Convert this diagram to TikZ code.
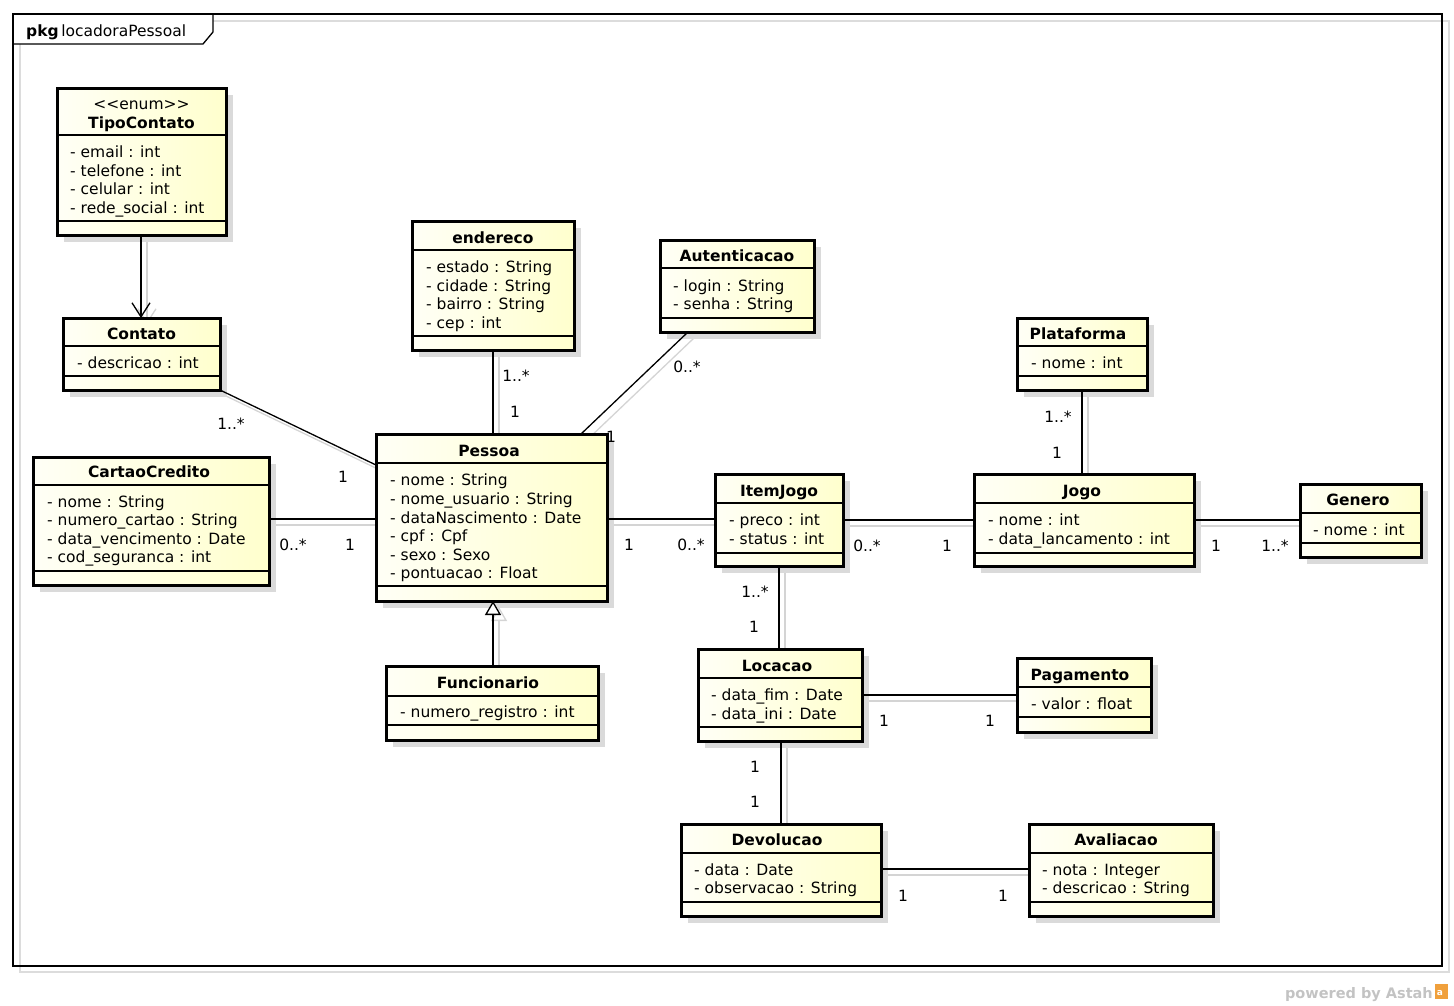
\documentclass[tikz,border=0pt]{standalone}
\usepackage{fontspec}
\setmainfont{DejaVu Sans}
\usetikzlibrary{arrows.meta,calc}
\pgfdeclarelayer{bg}
\pgfsetlayers{bg,main}
\definecolor{shd}{RGB}{218,218,218}
\definecolor{lshd}{RGB}{212,212,212}
\definecolor{fillA}{RGB}{255,255,246}
\definecolor{fillB}{RGB}{255,255,205}
\definecolor{astahgray}{RGB}{195,195,195}
\definecolor{framegray}{RGB}{220,220,220}
\definecolor{astahorange}{RGB}{240,160,60}
\tikzset{
  classbox/.style={draw=black, line width=3pt, left color=fillA, right color=fillB, inner sep=0pt, outer sep=0pt, anchor=north west},
  ctitle/.style={font=\bfseries\fontsize{15.5}{18}\selectfont, inner sep=0pt, text height=13pt, text depth=1pt},
  cster/.style={font=\fontsize{15.5}{18}\selectfont, inner sep=0pt, text height=13pt, text depth=1pt},
  attr/.style={font=\fontsize{15.5}{18}\selectfont, inner sep=0pt, anchor=west, text height=13pt, text depth=1pt},
  mult/.style={font=\fontsize{15.5}{18}\selectfont, inner sep=0pt, text height=13pt, text depth=1pt},
  conn/.style={line width=1.3pt, draw=black},
  connsh/.style={line width=1.3pt, draw=lshd, transform canvas={shift={(6pt,-6pt)}}},
  csep/.style={line width=1.2pt},
  frameline/.style={line width=1.3pt, draw=black},
}
\newcommand\umlclass[7]{%
  \fill[shd] (#2+7,#3+7) rectangle (#4+7,#5+7);
  \node[classbox, minimum width={(#4-#2)*1pt}, minimum height={(#5-#3)*1pt}] (#1) at (#2,#3) {};
  \draw[csep] (#2,#6) -- (#4,#6);
  \draw[csep] (#2,#7) -- (#4,#7);
}
\newcommand\attr[4]{\node[attr] (#1) at (#2,#3) {#4};}
\begin{document}
\begin{tikzpicture}[x=1pt,y=-1pt]
\useasboundingbox (0,0) rectangle (1454,1005);
\begin{pgfonlayer}{bg}
  \draw[line width=1.3pt, draw=framegray] (20,21) rectangle (1449,972);
  \fill[white] (13,14) -- (213,14) -- (213,32) -- (203,44) -- (13,44) -- cycle;
  \draw[frameline] (13,14) rectangle (1442,966);
  \draw[frameline] (13,44) -- (203,44) -- (213,32) -- (213,14);
\end{pgfonlayer}
\node[anchor=west, inner sep=0pt, font=\fontsize{15.5}{18}\selectfont, text height=13pt, text depth=1pt] (pkglabel) at (26,30) {\textbf{pkg}\,locadoraPessoal};

% classes
\umlclass{tipo}{57}{88}{226}{235}{135}{221}
\node[cster] (tipo-st) at (141.5,103) {<{}<enum>{}>};
\node[ctitle] (tipo-t) at (141.5,122) {TipoContato};
\attr{tipo-a1}{70}{151}{- email : int}
\attr{tipo-a2}{70}{170}{- telefone : int}
\attr{tipo-a3}{70}{188}{- celular : int}
\attr{tipo-a4}{70}{207}{- rede\_social : int}

\umlclass{contato}{63}{318}{220}{390}{346}{376}
\node[ctitle] (contato-t) at (141.5,333) {Contato};
\attr{contato-a1}{77}{362}{- descricao : int}

\umlclass{endereco}{412}{221}{574}{350}{250}{336}
\node[ctitle] (endereco-t) at (493,237) {endereco};
\attr{endereco-a1}{426}{266}{- estado : String}
\attr{endereco-a2}{426}{285}{- cidade : String}
\attr{endereco-a3}{426}{303}{- bairro : String}
\attr{endereco-a4}{426}{322}{- cep : int}

\umlclass{auth}{660}{240}{814}{332}{268}{318}
\node[ctitle] (auth-t) at (737,255) {Autenticacao};
\attr{auth-a1}{673}{285}{- login : String}
\attr{auth-a2}{673}{303}{- senha : String}

\umlclass{cartao}{33}{457}{269}{585}{485}{571}
\node[ctitle] (cartao-t) at (149,471) {CartaoCredito};
\attr{cartao-a1}{47}{501}{- nome : String}
\attr{cartao-a2}{47}{519}{- numero\_cartao : String}
\attr{cartao-a3}{47}{538}{- data\_vencimento : Date}
\attr{cartao-a4}{47}{556}{- cod\_seguranca : int}

\umlclass{pessoa}{376}{434}{607}{601}{463}{586}
\node[ctitle] (pessoa-t) at (489,450) {Pessoa};
\attr{pessoa-a1}{390}{479}{- nome : String}
\attr{pessoa-a2}{390}{498}{- nome\_usuario : String}
\attr{pessoa-a3}{390}{517}{- dataNascimento : Date}
\attr{pessoa-a4}{390}{535}{- cpf : Cpf}
\attr{pessoa-a5}{390}{554}{- sexo : Sexo}
\attr{pessoa-a6}{390}{572}{- pontuacao : Float}

\umlclass{func}{386}{666}{598}{740}{696}{725}
\node[ctitle] (func-t) at (488,682) {Funcionario};
\attr{func-a1}{400}{711}{- numero\_registro : int}

\umlclass{item}{715}{474}{843}{566}{503}{553}
\node[ctitle] (item-t) at (779,490) {ItemJogo};
\attr{item-a1}{729}{519}{- preco : int}
\attr{item-a2}{729}{538}{- status : int}

\umlclass{jogo}{974}{474}{1194}{566}{503}{553}
\node[ctitle] (jogo-t) at (1082,490) {Jogo};
\attr{jogo-a1}{988}{519}{- nome : int}
\attr{jogo-a2}{988}{538}{- data\_lancamento : int}

\umlclass{plat}{1017}{318}{1147}{390}{346}{376}
\node[ctitle] (plat-t) at (1078,333) {Plataforma};
\attr{plat-a1}{1031}{362}{- nome : int}

\umlclass{genero}{1300}{484}{1421}{557}{513}{543}
\node[ctitle] (genero-t) at (1358,499) {Genero};
\attr{genero-a1}{1313}{529}{- nome : int}

\umlclass{loc}{698}{649}{862}{741}{678}{727}
\node[ctitle] (loc-t) at (777,665) {Locacao};
\attr{loc-a1}{711}{694}{- data\_fim : Date}
\attr{loc-a2}{711}{713}{- data\_ini : Date}

\umlclass{pag}{1017}{658}{1151}{732}{687}{717}
\node[ctitle] (pag-t) at (1080,674) {Pagamento};
\attr{pag-a1}{1031}{703}{- valor : float}

\umlclass{dev}{681}{824}{881}{916}{853}{902}
\node[ctitle] (dev-t) at (777,839) {Devolucao};
\attr{dev-a1}{694}{869}{- data : Date}
\attr{dev-a2}{694}{887}{- observacao : String}

\umlclass{aval}{1029}{824}{1213}{916}{853}{902}
\node[ctitle] (aval-t) at (1116,839) {Avaliacao};
\attr{aval-a1}{1042}{869}{- nota : Integer}
\attr{aval-a2}{1042}{887}{- descricao : String}

% connector shadows
\begin{pgfonlayer}{bg}
  \draw[connsh, -{Straight Barb[length=14pt,width=18pt]}] (tipo.south -| 141,0) -- (contato.north -| 141,0);
  \draw[connsh] (contato.south east) -- (pessoa.west |- 0,465);
  \draw[connsh] (endereco.south -| 493,0) -- (pessoa.north -| 493,0);
  \draw[connsh] (auth.south -| 688,0) -- (pessoa.north -| 581,0);
  \draw[connsh] (cartao.east |- 0,519) -- (pessoa.west |- 0,519);
  \draw[connsh, -{Triangle[open,length=14pt,width=16pt]}] (func.north -| 493,0) -- (pessoa.south -| 493,0);
  \draw[connsh] (pessoa.east |- 0,519) -- (item.west |- 0,519);
  \draw[connsh] (item.east |- 0,520) -- (jogo.west |- 0,520);
  \draw[connsh] (plat.south -| 1082,0) -- (jogo.north -| 1082,0);
  \draw[connsh] (jogo.east |- 0,520) -- (genero.west |- 0,520);
  \draw[connsh] (item.south -| 779,0) -- (loc.north -| 779,0);
  \draw[connsh] (loc.east |- 0,695) -- (pag.west |- 0,695);
  \draw[connsh] (loc.south -| 781,0) -- (dev.north -| 781,0);
  \draw[connsh] (dev.east |- 0,869) -- (aval.west |- 0,869);
\end{pgfonlayer}

% connectors
\draw[conn, -{Straight Barb[length=14pt,width=18pt]}] (tipo.south -| 141,0) -- (contato.north -| 141,0);
\draw[conn] (contato.south east) -- (pessoa.west |- 0,465);
\draw[conn] (endereco.south -| 493,0) -- (pessoa.north -| 493,0);
\draw[conn] (auth.south -| 688,0) -- (pessoa.north -| 581,0);
\draw[conn] (cartao.east |- 0,519) -- (pessoa.west |- 0,519);
\draw[conn, -{Triangle[open,fill=white,length=14pt,width=16pt]}] (func.north -| 493,0) -- (pessoa.south -| 493,0);
\draw[conn] (pessoa.east |- 0,519) -- (item.west |- 0,519);
\draw[conn] (item.east |- 0,520) -- (jogo.west |- 0,520);
\draw[conn] (plat.south -| 1082,0) -- (jogo.north -| 1082,0);
\draw[conn] (jogo.east |- 0,520) -- (genero.west |- 0,520);
\draw[conn] (item.south -| 779,0) -- (loc.north -| 779,0);
\draw[conn] (loc.east |- 0,695) -- (pag.west |- 0,695);
\draw[conn] (loc.south -| 781,0) -- (dev.north -| 781,0);
\draw[conn] (dev.east |- 0,869) -- (aval.west |- 0,869);

% multiplicities
\node[mult] (m1) at (231,423) {1..*};
\node[mult] (m2) at (343,476) {1};
\node[mult] (m3) at (516,375) {1..*};
\node[mult] (m4) at (515,411) {1};
\node[mult] (m5) at (687,366) {0..*};
\node[mult] (m6) at (611,436) {1};
\node[mult] (m7) at (293,544) {0..*};
\node[mult] (m8) at (350,544) {1};
\node[mult] (m9) at (629,544) {1};
\node[mult] (m10) at (691,544) {0..*};
\node[mult] (m11) at (867,545) {0..*};
\node[mult] (m12) at (947,545) {1};
\node[mult] (m13) at (1058,416) {1..*};
\node[mult] (m14) at (1057,452) {1};
\node[mult] (m15) at (1216,545) {1};
\node[mult] (m16) at (1275,545) {1..*};
\node[mult] (m17) at (755,591) {1..*};
\node[mult] (m18) at (754,626) {1};
\node[mult] (m19) at (884,720) {1};
\node[mult] (m20) at (990,720) {1};
\node[mult] (m21) at (755,766) {1};
\node[mult] (m22) at (755,801) {1};
\node[mult] (m23) at (903,895) {1};
\node[mult] (m24) at (1003,895) {1};

% powered by
\node[anchor=east, inner sep=0pt, text=astahgray, font=\bfseries\fontsize{14.5}{17}\selectfont, text height=13pt, text depth=1pt] (powered) at (1433,992) {powered by Astah};
\fill[astahorange] (1435,984) rectangle (1448,999);
\node[inner sep=0pt, text=white, font=\bfseries\fontsize{9}{10}\selectfont] (logo) at (1440,993) {a};
\end{tikzpicture}
\end{document}
